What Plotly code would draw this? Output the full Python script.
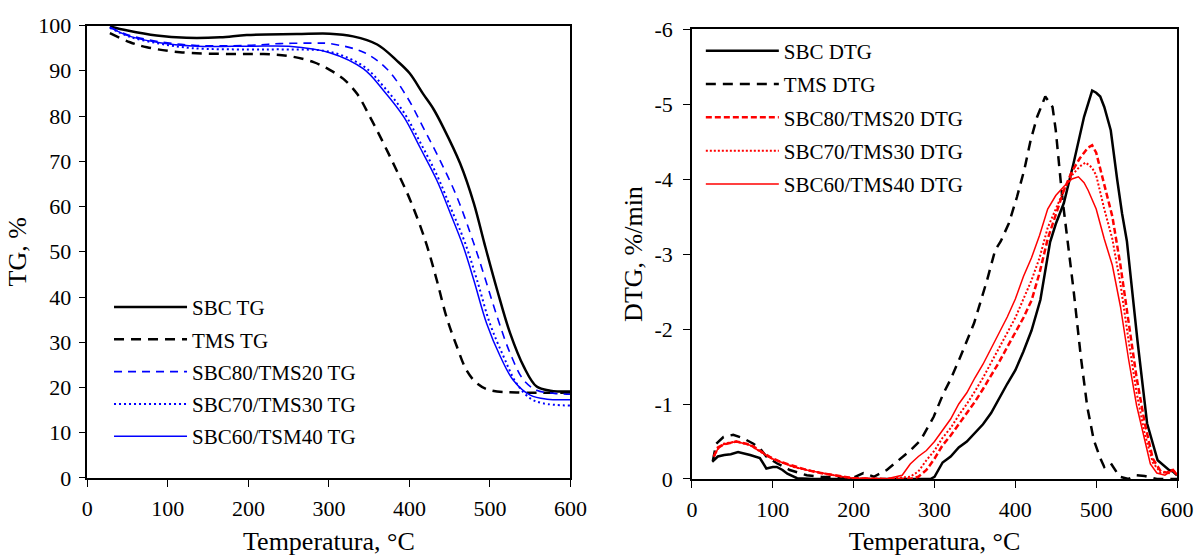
import plotly.graph_objects as go

# ---------------- TG data (left panel) ----------------
sbc_tg_x = [28, 50, 86, 123, 165, 198, 260, 301, 330, 360, 384, 400, 417, 430, 442, 463, 480, 493, 509, 525, 542, 558, 575, 600]
sbc_tg_y = [99.8, 98.9, 97.8, 97.3, 97.4, 97.9, 98.1, 98.2, 97.6, 95.8, 92.3, 89.5, 84.9, 81.5, 77.5, 69.5, 60.7, 51.9, 41.5, 32.0, 24.6, 20.2, 19.3, 19.1]

tms_tg_x = [28, 53, 74, 115, 177, 219, 252, 281, 301, 318, 335, 351, 368, 384, 401, 420, 434, 446, 459, 471, 484, 500, 533, 600]
tms_tg_y = [98.3, 96.3, 95.2, 94.1, 93.7, 93.7, 93.2, 91.9, 90.2, 88.2, 84.9, 79.8, 73.9, 68.0, 61.4, 52.3, 43.7, 35.6, 29.0, 23.8, 20.9, 19.4, 18.9, 18.9]

b80_tg_x = [28, 53, 94, 136, 198, 239, 281, 301, 343, 372, 397, 417, 438, 459, 480, 492, 509, 525, 542, 558, 580, 600]
b80_tg_y = [99.6, 97.8, 96.3, 95.6, 95.6, 96.0, 96.1, 96.0, 94.1, 90.4, 84.2, 77.5, 70.2, 62.1, 51.8, 45.2, 35.6, 27.6, 21.6, 19.4, 18.7, 18.5]

b70_tg_x = [28, 53, 90, 130, 200, 250, 301, 343, 368, 393, 413, 434, 451, 469, 484, 500, 517, 533, 550, 566, 600]
b70_tg_y = [99.5, 97.5, 96.0, 95.0, 94.7, 94.7, 94.2, 91.0, 86.5, 80.8, 74.3, 67.0, 59.8, 52.0, 43.7, 34.1, 26.8, 20.9, 17.6, 16.5, 16.0]

b60_tg_x = [28, 53, 90, 130, 200, 250, 301, 343, 368, 393, 413, 434, 451, 467, 480, 496, 513, 529, 550, 571, 600]
b60_tg_y = [99.6, 97.6, 96.2, 95.5, 95.4, 95.4, 94.0, 90.4, 85.6, 79.8, 73.1, 65.8, 58.4, 51.1, 43.7, 34.1, 26.8, 21.6, 18.3, 17.4, 17.3]

# ---------------- DTG data (right panel) ----------------
sbc_dtg_x = [25, 32, 40, 48, 57, 65, 72, 84, 92, 100, 105, 112, 118, 130, 150, 200, 250, 295, 300, 305, 310, 320, 330, 340, 350, 360, 370, 380, 390, 400, 410, 420, 431, 443, 450, 460, 472, 485, 490, 495, 500, 505, 510, 518, 526, 532, 538, 551, 563, 576, 590, 595, 600]
sbc_dtg_y = [-0.23, -0.3, -0.32, -0.33, -0.36, -0.34, -0.32, -0.28, -0.14, -0.16, -0.16, -0.12, -0.07, -0.01, 0.0, 0.0, 0.0, 0.0, -0.03, -0.12, -0.22, -0.3, -0.42, -0.5, -0.62, -0.73, -0.88, -1.08, -1.27, -1.45, -1.7, -1.98, -2.39, -3.16, -3.4, -3.68, -4.21, -4.83, -5.02, -5.18, -5.15, -5.1, -4.96, -4.65, -3.99, -3.54, -3.17, -1.85, -0.74, -0.25, -0.12, -0.1, -0.05]

tms_dtg_x = [26, 30, 39, 51, 64, 76, 84, 92, 105, 121, 142, 160, 180, 200, 212, 225, 241, 258, 270, 283, 299, 311, 320, 332, 349, 365, 375, 382, 392, 402, 411, 419, 427, 437, 446, 450, 454, 458, 464, 472, 481, 489, 497, 505, 510, 518, 529, 540, 550, 560, 575, 590, 600]
tms_dtg_y = [-0.25, -0.47, -0.56, -0.59, -0.54, -0.47, -0.41, -0.3, -0.21, -0.12, -0.05, -0.03, -0.02, -0.02, -0.08, -0.03, -0.12, -0.28, -0.38, -0.52, -0.83, -1.14, -1.33, -1.63, -2.08, -2.65, -3.05, -3.17, -3.41, -3.76, -4.12, -4.52, -4.83, -5.1, -4.96, -4.65, -4.21, -3.76, -3.23, -2.52, -1.63, -0.96, -0.52, -0.28, -0.16, -0.21, -0.03, 0.0, -0.05, -0.04, 0.0, 0.0, 0.0]

b80_dtg_x = [27, 32, 39, 55, 72, 86, 97, 109, 126, 142, 159, 180, 200, 240, 270, 280, 290, 300, 310, 320, 330, 340, 350, 360, 370, 380, 390, 400, 410, 420, 430, 440, 450, 460, 470, 480, 490, 495, 500, 510, 520, 530, 540, 550, 560, 570, 580, 590, 595, 600]
b80_dtg_y = [-0.3, -0.42, -0.46, -0.5, -0.46, -0.37, -0.29, -0.23, -0.17, -0.12, -0.08, -0.04, -0.01, 0.0, 0.0, -0.03, -0.12, -0.27, -0.45, -0.58, -0.73, -0.87, -1.03, -1.2, -1.38, -1.56, -1.76, -1.95, -2.15, -2.38, -2.75, -3.2, -3.53, -3.85, -4.1, -4.28, -4.42, -4.45, -4.35, -3.93, -3.5, -2.85, -2.1, -1.35, -0.75, -0.27, -0.1, -0.08, -0.12, -0.05]

b70_dtg_x = [27, 32, 39, 55, 72, 86, 97, 109, 126, 142, 159, 180, 200, 240, 270, 280, 290, 300, 310, 320, 330, 340, 350, 360, 370, 380, 390, 400, 410, 420, 430, 440, 450, 460, 470, 480, 487, 495, 500, 510, 520, 530, 540, 550, 560, 570, 580, 590, 595, 600]
b70_dtg_y = [-0.3, -0.4, -0.47, -0.5, -0.45, -0.36, -0.28, -0.23, -0.16, -0.12, -0.08, -0.04, -0.01, 0.0, -0.03, -0.1, -0.25, -0.38, -0.55, -0.68, -0.85, -1.0, -1.17, -1.35, -1.55, -1.75, -1.95, -2.15, -2.4, -2.65, -2.95, -3.35, -3.6, -3.85, -4.05, -4.17, -4.22, -4.15, -4.05, -3.6, -3.2, -2.6, -1.85, -1.15, -0.6, -0.22, -0.08, -0.1, -0.13, -0.05]

b60_dtg_x = [27, 32, 39, 55, 72, 86, 97, 109, 126, 142, 159, 180, 200, 240, 260, 270, 280, 290, 300, 310, 320, 330, 340, 350, 360, 370, 380, 390, 400, 410, 420, 430, 440, 450, 460, 470, 478, 485, 490, 500, 510, 520, 530, 540, 550, 560, 567, 575, 585, 595, 600]
b60_dtg_y = [-0.3, -0.4, -0.46, -0.5, -0.45, -0.36, -0.28, -0.23, -0.16, -0.12, -0.08, -0.04, -0.01, 0.0, -0.05, -0.2, -0.3, -0.38, -0.5, -0.65, -0.8, -1.0, -1.15, -1.35, -1.53, -1.74, -1.95, -2.16, -2.4, -2.7, -2.95, -3.25, -3.6, -3.78, -3.9, -4.0, -4.03, -3.95, -3.85, -3.6, -3.2, -2.85, -2.3, -1.6, -0.98, -0.5, -0.2, -0.08, -0.05, -0.12, -0.06]

x_ticks = [0, 100, 200, 300, 400, 500, 600]
tg_ticks = [0, 10, 20, 30, 40, 50, 60, 70, 80, 90, 100]
dtg_ticks = [0, -1, -2, -3, -4, -5, -6]
dtg_tick_text = ["0", "-1", "-2", "-3", "-4", "-5", "-6"]

FONT = "Liberation Serif, Times New Roman, serif"
BLACK = "#000000"
BLUE = "#0000FF"
RED = "#FF0000"

fig = go.Figure()


def add(x, y, name, color, width, dash, xa, ya, leg, shape):
    fig.add_trace(go.Scatter(
        x=x, y=y, name=name, mode="lines",
        line=dict(color=color, width=width, dash=dash, shape=shape),
        xaxis=xa, yaxis=ya, legend=leg, legendgroup=name,
    ))


# left panel traces
add(sbc_tg_x, sbc_tg_y, "SBC TG", BLACK, 2.5, "solid", "x", "y", "legend", "spline")
add(tms_tg_x, tms_tg_y, "TMS TG", BLACK, 2.5, "10px,7px", "x", "y", "legend", "spline")
add(b80_tg_x, b80_tg_y, "SBC80/TMS20 TG", BLUE, 1.6, "8px,6px", "x", "y", "legend", "spline")
add(b70_tg_x, b70_tg_y, "SBC70/TMS30 TG", BLUE, 2, "2px,3px", "x", "y", "legend", "spline")
add(b60_tg_x, b60_tg_y, "SBC60/TSM40 TG", BLUE, 1.5, "solid", "x", "y", "legend", "spline")

# right panel traces
add(sbc_dtg_x, sbc_dtg_y, "SBC DTG", BLACK, 2.5, "solid", "x2", "y2", "legend2", "linear")
add(tms_dtg_x, tms_dtg_y, "TMS DTG", BLACK, 2.5, "10px,7px", "x2", "y2", "legend2", "linear")
add(b80_dtg_x, b80_dtg_y, "SBC80/TMS20 DTG", RED, 2.5, "6px,3px", "x2", "y2", "legend2", "linear")
add(b70_dtg_x, b70_dtg_y, "SBC70/TMS30 DTG", RED, 2, "2px,2px", "x2", "y2", "legend2", "linear")
add(b60_dtg_x, b60_dtg_y, "SBC60/TMS40 DTG", RED, 1.5, "solid", "x2", "y2", "legend2", "linear")

axis_common = dict(
    showline=True, linecolor=BLACK, linewidth=1.5, mirror=True,
    ticks="outside", ticklen=7, tickwidth=1.3, tickcolor=BLACK,
    showgrid=False, zeroline=False, automargin=False,
    tickfont=dict(family=FONT, size=22, color=BLACK),
)
title_font = dict(family=FONT, size=26, color=BLACK)
legend_font = dict(family=FONT, size=21, color=BLACK)

fig.update_layout(
    width=1198, height=556,
    margin=dict(l=0, r=0, t=0, b=0),
    paper_bgcolor="white", plot_bgcolor="white",
    font=dict(family=FONT, color=BLACK),
    xaxis=dict(domain=[0.0729, 0.4762], range=[0, 600], tickvals=x_ticks, anchor="y", ticklabelstandoff=3,
               title=dict(text="Temperatura, °C", font=title_font, standoff=15), **axis_common),
    yaxis=dict(domain=[0.1403, 0.9541], range=[0, 100], tickvals=tg_ticks, anchor="x", ticklabelstandoff=3,
               title=dict(text="TG, %", font=title_font, standoff=4), **axis_common),
    xaxis2=dict(domain=[0.5776, 0.9825], range=[0, 600], tickvals=x_ticks, anchor="y2", ticklabelstandoff=3,
                title=dict(text="Temperatura, °C", font=title_font, standoff=15), **axis_common),
    yaxis2=dict(domain=[0.1385, 0.9478], range=[0, -6], tickvals=dtg_ticks, ticktext=dtg_tick_text, anchor="x2",
                ticklabelstandoff=6,
                title=dict(text="DTG, %/min", font=title_font, standoff=4), **axis_common),
    legend=dict(x=0.091, y=0.484, xanchor="left", yanchor="top", bgcolor="rgba(0,0,0,0)",
                font=legend_font, itemwidth=73, tracegroupgap=2),
    legend2=dict(x=0.585, y=0.945, xanchor="left", yanchor="top", bgcolor="rgba(0,0,0,0)",
                 font=legend_font, itemwidth=73, tracegroupgap=3),
    showlegend=True,
)

fig.write_html("out.html")
